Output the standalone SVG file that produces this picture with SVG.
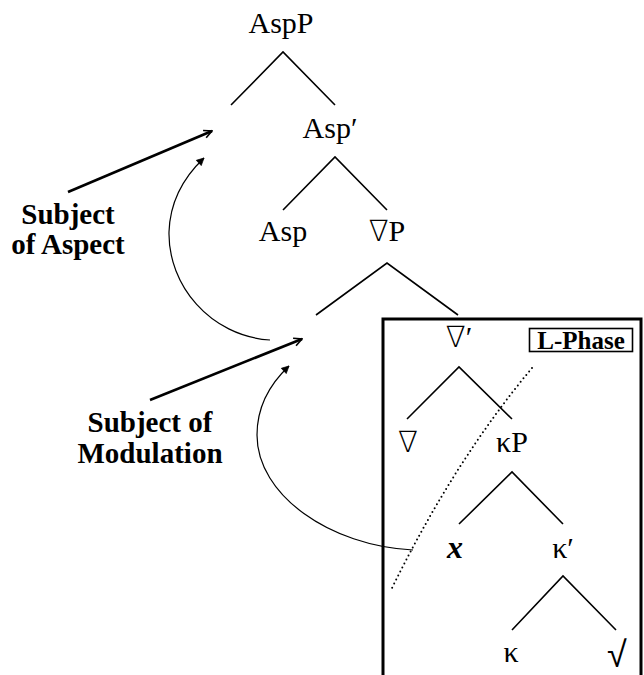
<svg xmlns="http://www.w3.org/2000/svg" width="644" height="675" viewBox="0 0 644 675">
<style>
.lbl{font-family:"Liberation Serif","DejaVu Serif",serif;font-size:30px;fill:#000;text-anchor:middle}
.nab{font-family:"DejaVu Sans","Noto Sans CJK JP",sans-serif;font-weight:200;font-size:29px}
.bold{font-family:"Liberation Serif","DejaVu Serif",serif;font-size:29px;font-weight:bold;fill:#000;text-anchor:middle}
.edge{stroke:#000;stroke-width:1.6;fill:none}
.arr{stroke:#000;stroke-width:2.6;fill:none}
.curve{stroke:#000;stroke-width:1.2;fill:none}
</style>
<defs>
<marker id="openHead" viewBox="0 0 10 10" refX="9" refY="5" markerWidth="10" markerHeight="10" markerUnits="userSpaceOnUse" orient="auto">
<path d="M1,1 L9,5 L1,9" fill="none" stroke="#000" stroke-width="1.6"/>
</marker>
<marker id="thinHead" viewBox="0 0 10 10" refX="9" refY="5" markerWidth="9" markerHeight="9" markerUnits="userSpaceOnUse" orient="auto">
<path d="M1,1 L9,5 L1,9 Z" fill="#000" stroke="#000" stroke-width="0.8"/>
</marker>
</defs>
<g id="phase-box">
<rect x="383" y="319" width="258" height="400" fill="none" stroke="#000" stroke-width="3"/>
<rect x="529.5" y="328.5" width="103" height="23" fill="none" stroke="#000" stroke-width="1.6"/>
<text class="bold" x="581" y="349" style="font-size:25px">L-Phase</text>
</g>
<g id="edges">
<path class="edge" d="M231,105 L283,52 L335,105"/>
<path class="edge" d="M283,210 L335,157 L387,210"/>
<path class="edge" d="M316,315 L387,263 L458,315"/>
<path class="edge" d="M407,419 L459,367 L512,419"/>
<path class="edge" d="M459,524 L512,472 L563,524"/>
<path class="edge" d="M512,630 L563,576 L616,630"/>
</g>
<g id="n-AspP"><text class="lbl" x="281" y="33">AspP</text></g>
<g id="n-AspBar"><text class="lbl" x="330" y="138">Asp′</text></g>
<g id="n-Asp"><text class="lbl" x="283" y="241">Asp</text></g>
<g id="n-NablaP"><text class="lbl" x="387" y="241"><tspan class="nab">∇</tspan>P</text></g>
<g id="n-NablaBar"><text class="lbl" x="459" y="347"><tspan class="nab">∇</tspan>′</text></g>
<g id="n-Nabla"><text class="lbl" x="408" y="452"><tspan class="nab">∇</tspan></text></g>
<g id="n-kappaP"><text class="lbl" x="512" y="452">κP</text></g>
<g id="n-x"><text class="lbl" x="455" y="558" style="font-weight:bold;font-style:italic;font-size:32px">x</text></g>
<g id="n-kappaBar"><text class="lbl" x="563" y="558">κ′</text></g>
<g id="n-kappa"><text class="lbl" x="511" y="662">κ</text></g>
<g id="n-root"><text class="lbl" x="617" y="667" style="font-family:'DejaVu Sans',sans-serif;font-weight:200;font-size:36px">√</text></g>
<g id="n-subj-aspect">
<text class="bold" x="68" y="224">Subject</text>
<text class="bold" x="68" y="254">of Aspect</text>
</g>
<g id="n-subj-mod">
<text class="bold" x="150" y="432">Subject of</text>
<text class="bold" x="150" y="463">Modulation</text>
</g>
<g id="connectors">
<line class="arr" x1="68" y1="192" x2="212" y2="131" marker-end="url(#openHead)"/>
<line class="arr" x1="150" y1="400" x2="302" y2="339" marker-end="url(#openHead)"/>
<path class="curve" d="M270,340 C210,336 168,285 169,232 C170,200 185,176 204,158" marker-end="url(#thinHead)"/>
<path class="curve" d="M413,550 C330,546 257,495 257,435 C257,405 272,382 289,366" marker-end="url(#thinHead)"/>
<path d="M532,368 Q455,460 392,588" fill="none" stroke="#000" stroke-width="2" stroke-linecap="round" stroke-dasharray="0 4.5"/>
</g>
</svg>
